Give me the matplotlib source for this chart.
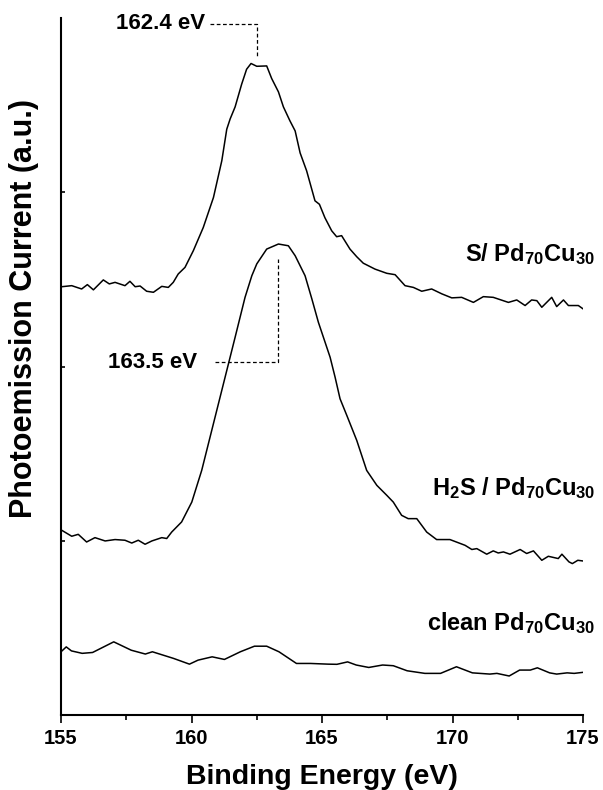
import matplotlib
matplotlib.use("Agg")
import matplotlib.pyplot as plt
from matplotlib.ticker import MultipleLocator

# XPS S 2p spectra
energy_s = [155.03, 155.41, 155.79, 156.01, 156.24, 156.62, 156.85, 157.07, 157.45, 157.64,
            157.84, 158.03, 158.28, 158.54, 158.86, 159.11, 159.30, 159.49, 159.75, 160.07,
            160.45, 160.84, 161.16, 161.35, 161.48, 161.67, 161.92, 162.11, 162.28, 162.50,
            162.88, 163.07, 163.33, 163.52, 163.77, 163.97, 164.16, 164.41, 164.73, 164.90,
            165.11, 165.37, 165.56, 165.75, 166.07, 166.33, 166.58, 167.03, 167.48, 167.80,
            168.18, 168.50, 168.82, 169.20, 169.59, 169.97, 170.35, 170.80, 171.18, 171.56,
            172.14, 172.46, 172.78, 173.03, 173.23, 173.42, 173.80, 173.99, 174.25, 174.44,
            174.82, 175.00]
signal_s = [2.458, 2.464, 2.445, 2.470, 2.440, 2.497, 2.474, 2.483, 2.464, 2.489,
            2.458, 2.462, 2.432, 2.426, 2.460, 2.454, 2.483, 2.531, 2.569, 2.665,
            2.798, 2.970, 3.181, 3.362, 3.421, 3.490, 3.620, 3.706, 3.739, 3.723,
            3.725, 3.653, 3.576, 3.490, 3.410, 3.352, 3.226, 3.123, 2.951, 2.931,
            2.854, 2.779, 2.745, 2.751, 2.674, 2.630, 2.593, 2.559, 2.535, 2.527,
            2.464, 2.454, 2.432, 2.445, 2.417, 2.394, 2.397, 2.368, 2.401, 2.397,
            2.368, 2.382, 2.350, 2.382, 2.378, 2.340, 2.397, 2.344, 2.382, 2.350,
            2.350, 2.331]

energy_h2s = [155.03, 155.41, 155.66, 155.98, 156.30, 156.69, 157.07, 157.45, 157.71, 157.96,
              158.22, 158.48, 158.86, 159.05, 159.24, 159.62, 160.01, 160.39, 160.71, 161.03,
              161.35, 161.67, 162.05, 162.31, 162.50, 162.88, 163.33, 163.71, 163.97, 164.35,
              164.61, 164.86, 165.31, 165.50, 165.69, 165.95, 166.33, 166.71, 167.10, 167.48,
              167.73, 168.05, 168.30, 168.63, 169.01, 169.39, 169.90, 170.48, 170.74, 170.93,
              171.31, 171.56, 171.75, 171.95, 172.20, 172.59, 172.84, 173.10, 173.42, 173.67,
              174.05, 174.19, 174.46, 174.59, 174.80, 175.00]
signal_h2s = [1.060, 1.026, 1.037, 0.993, 1.018, 0.999, 1.007, 1.003, 0.987, 1.003,
              0.980, 0.999, 1.018, 1.013, 1.050, 1.108, 1.222, 1.404, 1.595, 1.786,
              1.977, 2.168, 2.397, 2.521, 2.589, 2.674, 2.703, 2.693, 2.636, 2.521,
              2.388, 2.254, 2.053, 1.939, 1.815, 1.719, 1.576, 1.404, 1.318, 1.261,
              1.222, 1.146, 1.127, 1.127, 1.050, 1.007, 1.007, 0.974, 0.950, 0.955,
              0.923, 0.942, 0.930, 0.936, 0.923, 0.950, 0.927, 0.942, 0.888, 0.911,
              0.898, 0.923, 0.879, 0.869, 0.888, 0.884]

energy_clean = [155.00, 155.20, 155.40, 155.81, 156.21, 157.02, 157.69, 158.23, 158.50, 159.31,
                159.92, 160.25, 160.79, 161.26, 161.87, 162.41, 162.88, 163.35, 164.02, 164.56,
                165.23, 165.57, 165.98, 166.31, 166.79, 167.32, 167.73, 168.26, 168.94, 169.54,
                170.15, 170.76, 171.43, 171.70, 172.17, 172.57, 172.98, 173.25, 173.72, 173.99,
                174.39, 174.66, 175.00]
signal_clean = [0.363, 0.391, 0.368, 0.354, 0.359, 0.420, 0.372, 0.350, 0.363, 0.325,
                0.292, 0.315, 0.334, 0.319, 0.363, 0.395, 0.395, 0.363, 0.296, 0.296,
                0.292, 0.291, 0.305, 0.287, 0.273, 0.287, 0.283, 0.254, 0.239, 0.239,
                0.277, 0.242, 0.235, 0.239, 0.224, 0.258, 0.258, 0.271, 0.242, 0.235,
                0.242, 0.239, 0.245]

curve_labels = [r"S/ Pd$_{70}$Cu$_{30}$", r"H$_2$S / Pd$_{70}$Cu$_{30}$", r"clean Pd$_{70}$Cu$_{30}$"]
label_y = [2.648, 1.301, 0.527]

peak_labels = ["162.4 eV", "163.5 eV"]
peak_x = [162.52, 163.33]
peak_top = [3.782, 2.617]
line_start = [160.71, 160.90]
line_y = [3.967, 2.025]
text_x = [160.52, 160.21]

plt.rcParams["font.family"] = ["Liberation Sans", "DejaVu Sans"]
plt.rcParams["font.weight"] = "bold"
plt.rcParams["mathtext.fontset"] = "custom"
plt.rcParams["mathtext.rm"] = "Liberation Sans:bold"
plt.rcParams["mathtext.it"] = "Liberation Sans:bold"
plt.rcParams["mathtext.bf"] = "Liberation Sans:bold"
plt.rcParams["mathtext.default"] = "rm"

fig = plt.figure(figsize=(6.03, 7.90), dpi=100)
ax = fig.add_axes([0.1012, 0.0949, 0.8657, 0.8823])

for e, s in [(energy_s, signal_s), (energy_h2s, signal_h2s), (energy_clean, signal_clean)]:
    ax.plot(e, s, color="black", lw=1.1)

for txt, y in zip(curve_labels, label_y):
    ax.text(175.46, y, txt, ha="right", va="center", fontsize=17, fontweight="bold", clip_on=False)

# peak markers
for i in range(2):
    ax.plot([line_start[i], peak_x[i], peak_x[i]], [line_y[i], line_y[i], peak_top[i]],
            color="black", lw=0.9, ls=(0, (3, 2)))
    ax.text(text_x[i], line_y[i], peak_labels[i], ha="right", va="center",
            fontsize=16, fontweight="bold")

ax.set_xlim(155, 175)
ax.set_ylim(0, 4)
ax.xaxis.set_major_locator(MultipleLocator(5))
ax.xaxis.set_minor_locator(MultipleLocator(2.5))
ax.set_yticks([1, 2, 3])
ax.set_yticklabels([])
ax.tick_params(axis="x", which="major", direction="out", length=6, width=1.2, labelsize=14.5, pad=4)
ax.tick_params(axis="x", which="minor", direction="out", length=3.5, width=1.2)
ax.tick_params(axis="y", direction="in", length=3, width=1.2)

ax.spines["top"].set_visible(False)
ax.spines["right"].set_visible(False)
ax.spines["left"].set_linewidth(1.5)
ax.spines["bottom"].set_linewidth(1.5)

# axis titles placed like the original (y title sits above the axis centre)
fig.text(322 / 603, 1 - 777 / 790, "Binding Energy (eV)", ha="center", va="center",
         fontsize=20.5, fontweight="bold")
fig.text(24 / 603, 1 - 308 / 790, "Photoemission Current (a.u.)", rotation=90,
         ha="center", va="center", fontsize=22, fontweight="bold")

fig.savefig("out.png", dpi=100)
